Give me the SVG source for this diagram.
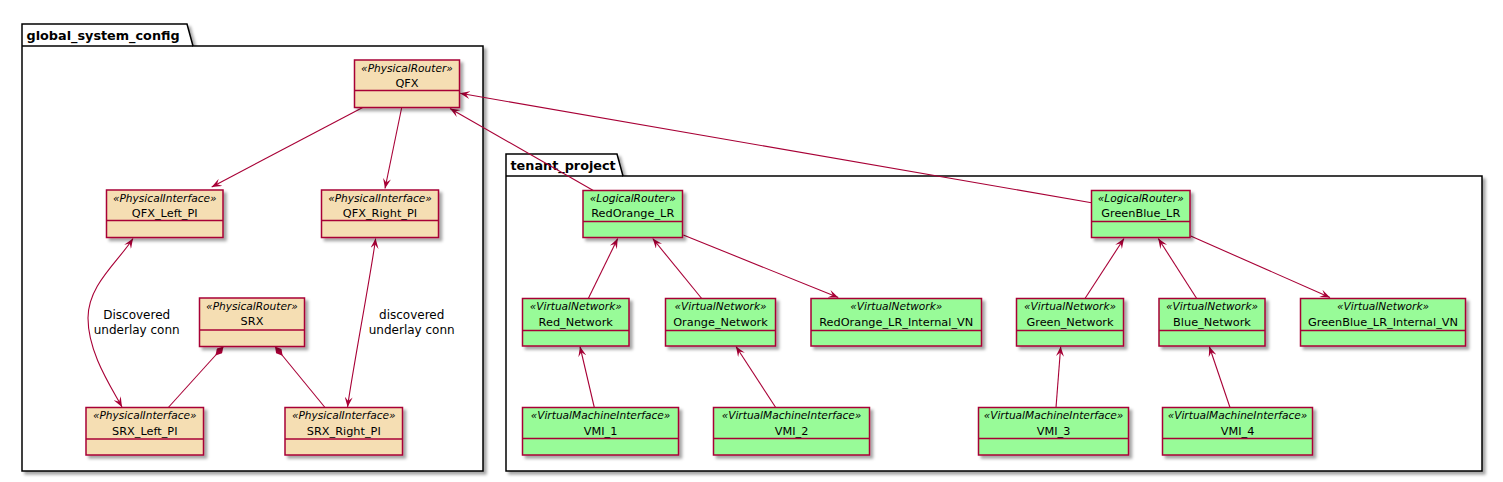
<svg xmlns="http://www.w3.org/2000/svg" width="1503" height="482" viewBox="0 0 1503 482">
<style>
.pkg{fill:#ffffff;stroke:#000000;stroke-width:1.5}
.pt{font-family:"DejaVu Sans",sans-serif;font-weight:bold;font-size:12.8px;fill:#000}
.box{stroke:#A80036;stroke-width:1.5}
.phys{fill:#F5DEB3}
.virt{fill:#98FB98}
.div{stroke:#A80036;stroke-width:1.5}
.st{font-family:"DejaVu Sans",sans-serif;font-style:italic;font-size:10.6px;text-anchor:middle;fill:#000}
.nm{font-family:"DejaVu Sans",sans-serif;font-size:11.3px;text-anchor:middle;fill:#000}
.lb{font-family:"DejaVu Sans",sans-serif;font-size:12px;text-anchor:middle;fill:#000}
.e{fill:none;stroke:#A80036;stroke-width:1.1}
.a{marker-end:url(#arr)}
.sh{filter:url(#shadow)}
</style>
<defs>
<filter id="shadow" x="-10%" y="-10%" width="130%" height="140%">
<feDropShadow dx="3" dy="3" stdDeviation="1.6" flood-color="#000" flood-opacity="0.35"/>
</filter>
<marker id="arr" viewBox="0 0 10 8" refX="10" refY="4" markerWidth="10" markerHeight="8" markerUnits="userSpaceOnUse" orient="auto">
<path d="M0,0 L10,4 L0,8 L4,4 Z" fill="#A80036"/>
</marker>
<marker id="arrs" viewBox="0 0 10 8" refX="10" refY="4" markerWidth="10" markerHeight="8" markerUnits="userSpaceOnUse" orient="auto-start-reverse">
<path d="M0,0 L10,4 L0,8 L4,4 Z" fill="#A80036"/>
</marker>
<marker id="dia" viewBox="0 0 12 7" refX="0" refY="3.5" markerWidth="12" markerHeight="7" markerUnits="userSpaceOnUse" orient="auto">
<path d="M0,3.5 L6,0 L12,3.5 L6,7 Z" fill="#A80036"/>
</marker>
</defs>
<rect x="0" y="0" width="1503" height="482" fill="#ffffff"/>

<g id="global_system_config">
<path class="pkg sh" d="M22,24 L187,24 L193,46 L483,46 L483,471 L22,471 Z"/>
<line x1="22" y1="46" x2="193" y2="46" stroke="#000" stroke-width="1.5"/>
<text class="pt" x="26.5" y="39.5">global_system_config</text>
</g>
<g id="tenant_project">
<path class="pkg sh" d="M506,154 L617,154 L623,176 L1482,176 L1482,471 L506,471 Z"/>
<line x1="506" y1="176" x2="623" y2="176" stroke="#000" stroke-width="1.5"/>
<text class="pt" x="510.5" y="169.5">tenant_project</text>
</g>

<g id="connectors">
<path class="e a" d="M362.7,107.5 L211.7,187"/>
<path class="e a" d="M401.7,107.5 L385,188.5"/>
<path class="e a" d="M593.3,190.5 L450,108.5"/>
<path class="e a" d="M1091.5,202.7 L460,93.3"/>
<path class="e" d="M133,238.5 C118,262 88,285 88,318 C88,352 110,385 122,407" marker-start="url(#arrs)" marker-end="url(#arr)"/>
<path class="e" d="M375.6,238.5 C373,262 350,385 347.6,407" marker-start="url(#arrs)" marker-end="url(#arr)"/>
<path class="e" d="M223.5,346.5 L168.3,407.5" marker-start="url(#dia)"/>
<path class="e" d="M275,346.5 L325,407.5" marker-start="url(#dia)"/>
<path class="e a" d="M588.3,298.5 L617.7,238.5"/>
<path class="e a" d="M701.7,298.5 L652.7,238.5"/>
<path class="e a" d="M683.3,235 L838.3,297.5"/>
<path class="e a" d="M1085,298.5 L1124,238.5"/>
<path class="e a" d="M1196.7,298.5 L1158.3,238.5"/>
<path class="e a" d="M1190.7,236 L1330,297.5"/>
<path class="e a" d="M594.3,407.5 L580,346.5"/>
<path class="e a" d="M775.7,407.5 L736,346.5"/>
<path class="e a" d="M1056,407.5 L1060.7,346.5"/>
<path class="e a" d="M1230,407.5 L1209.3,346.5"/>
<text class="lb" x="136.7" y="319.3">Discovered</text>
<text class="lb" x="136.7" y="334.3">underlay conn</text>
<text class="lb" x="411.7" y="319.3">discovered</text>
<text class="lb" x="411.7" y="334.3">underlay conn</text>
</g>

<g id="QFX">
<rect class="box phys sh" x="354.5" y="60" width="105" height="47.5"/>
<line class="div" x1="354.5" y1="90.5" x2="459.5" y2="90.5"/>
<text class="st" x="407" y="71.5">«PhysicalRouter»</text>
<text class="nm" x="407" y="86.5">QFX</text>
</g>
<g id="QFX_Left_PI">
<rect class="box phys sh" x="106.5" y="190" width="116.5" height="47.5"/>
<line class="div" x1="106.5" y1="220.5" x2="223" y2="220.5"/>
<text class="st" x="164.75" y="201.5">«PhysicalInterface»</text>
<text class="nm" x="164.75" y="216.5">QFX_Left_PI</text>
</g>
<g id="QFX_Right_PI">
<rect class="box phys sh" x="321.5" y="190" width="117" height="47.5"/>
<line class="div" x1="321.5" y1="220.5" x2="438.5" y2="220.5"/>
<text class="st" x="380" y="201.5">«PhysicalInterface»</text>
<text class="nm" x="380" y="216.5">QFX_Right_PI</text>
</g>
<g id="SRX">
<rect class="box phys sh" x="199.5" y="298" width="105" height="48.5"/>
<line class="div" x1="199.5" y1="330" x2="304.5" y2="330"/>
<text class="st" x="252" y="309.5">«PhysicalRouter»</text>
<text class="nm" x="252" y="325">SRX</text>
</g>
<g id="SRX_Left_PI">
<rect class="box phys sh" x="86" y="407.5" width="117.5" height="47.5"/>
<line class="div" x1="86" y1="439" x2="203.5" y2="439"/>
<text class="st" x="144.75" y="419">«PhysicalInterface»</text>
<text class="nm" x="144.75" y="434.5">SRX_Left_PI</text>
</g>
<g id="SRX_Right_PI">
<rect class="box phys sh" x="285" y="407.5" width="117.5" height="47.5"/>
<line class="div" x1="285" y1="439" x2="402.5" y2="439"/>
<text class="st" x="343.75" y="419">«PhysicalInterface»</text>
<text class="nm" x="343.75" y="434.5">SRX_Right_PI</text>
</g>

<g id="RedOrange_LR">
<rect class="box virt sh" x="583" y="190.5" width="99.5" height="47"/>
<line class="div" x1="583" y1="221.5" x2="682.5" y2="221.5"/>
<text class="st" x="632.75" y="202">«LogicalRouter»</text>
<text class="nm" x="632.75" y="217">RedOrange_LR</text>
</g>
<g id="GreenBlue_LR">
<rect class="box virt sh" x="1091.5" y="190.5" width="98.5" height="47"/>
<line class="div" x1="1091.5" y1="221.5" x2="1190" y2="221.5"/>
<text class="st" x="1140.75" y="202">«LogicalRouter»</text>
<text class="nm" x="1140.75" y="217">GreenBlue_LR</text>
</g>
<g id="Red_Network">
<rect class="box virt sh" x="522.5" y="298.5" width="106.5" height="47.5"/>
<line class="div" x1="522.5" y1="330.5" x2="629" y2="330.5"/>
<text class="st" x="575.75" y="310">«VirtualNetwork»</text>
<text class="nm" x="575.75" y="325.5">Red_Network</text>
</g>
<g id="Orange_Network">
<rect class="box virt sh" x="665.5" y="298.5" width="110" height="47.5"/>
<line class="div" x1="665.5" y1="330.5" x2="775.5" y2="330.5"/>
<text class="st" x="720.5" y="310">«VirtualNetwork»</text>
<text class="nm" x="720.5" y="325.5">Orange_Network</text>
</g>
<g id="RedOrange_LR_Internal_VN">
<rect class="box virt sh" x="811" y="298.5" width="170.5" height="47.5"/>
<line class="div" x1="811" y1="330.5" x2="981.5" y2="330.5"/>
<text class="st" x="896.25" y="310">«VirtualNetwork»</text>
<text class="nm" x="896.25" y="325.5">RedOrange_LR_Internal_VN</text>
</g>
<g id="Green_Network">
<rect class="box virt sh" x="1016.5" y="298.5" width="107" height="47.5"/>
<line class="div" x1="1016.5" y1="330.5" x2="1123.5" y2="330.5"/>
<text class="st" x="1070" y="310">«VirtualNetwork»</text>
<text class="nm" x="1070" y="325.5">Green_Network</text>
</g>
<g id="Blue_Network">
<rect class="box virt sh" x="1159" y="298.5" width="106" height="47.5"/>
<line class="div" x1="1159" y1="330.5" x2="1265" y2="330.5"/>
<text class="st" x="1212" y="310">«VirtualNetwork»</text>
<text class="nm" x="1212" y="325.5">Blue_Network</text>
</g>
<g id="GreenBlue_LR_Internal_VN">
<rect class="box virt sh" x="1300.5" y="298.5" width="165" height="47.5"/>
<line class="div" x1="1300.5" y1="330.5" x2="1465.5" y2="330.5"/>
<text class="st" x="1383" y="310">«VirtualNetwork»</text>
<text class="nm" x="1383" y="325.5">GreenBlue_LR_Internal_VN</text>
</g>
<g id="VMI_1">
<rect class="box virt sh" x="522.5" y="407.5" width="156" height="47.5"/>
<line class="div" x1="522.5" y1="438.5" x2="678.5" y2="438.5"/>
<text class="st" x="600.5" y="419">«VirtualMachineInterface»</text>
<text class="nm" x="600.5" y="434.5">VMI_1</text>
</g>
<g id="VMI_2">
<rect class="box virt sh" x="713.5" y="407.5" width="156" height="47.5"/>
<line class="div" x1="713.5" y1="438.5" x2="869.5" y2="438.5"/>
<text class="st" x="791.5" y="419">«VirtualMachineInterface»</text>
<text class="nm" x="791.5" y="434.5">VMI_2</text>
</g>
<g id="VMI_3">
<rect class="box virt sh" x="978.5" y="407.5" width="150" height="47.5"/>
<line class="div" x1="978.5" y1="438.5" x2="1128.5" y2="438.5"/>
<text class="st" x="1053.5" y="419">«VirtualMachineInterface»</text>
<text class="nm" x="1053.5" y="434.5">VMI_3</text>
</g>
<g id="VMI_4">
<rect class="box virt sh" x="1162.5" y="407.5" width="150" height="47.5"/>
<line class="div" x1="1162.5" y1="438.5" x2="1312.5" y2="438.5"/>
<text class="st" x="1237.5" y="419">«VirtualMachineInterface»</text>
<text class="nm" x="1237.5" y="434.5">VMI_4</text>
</g>
</svg>
